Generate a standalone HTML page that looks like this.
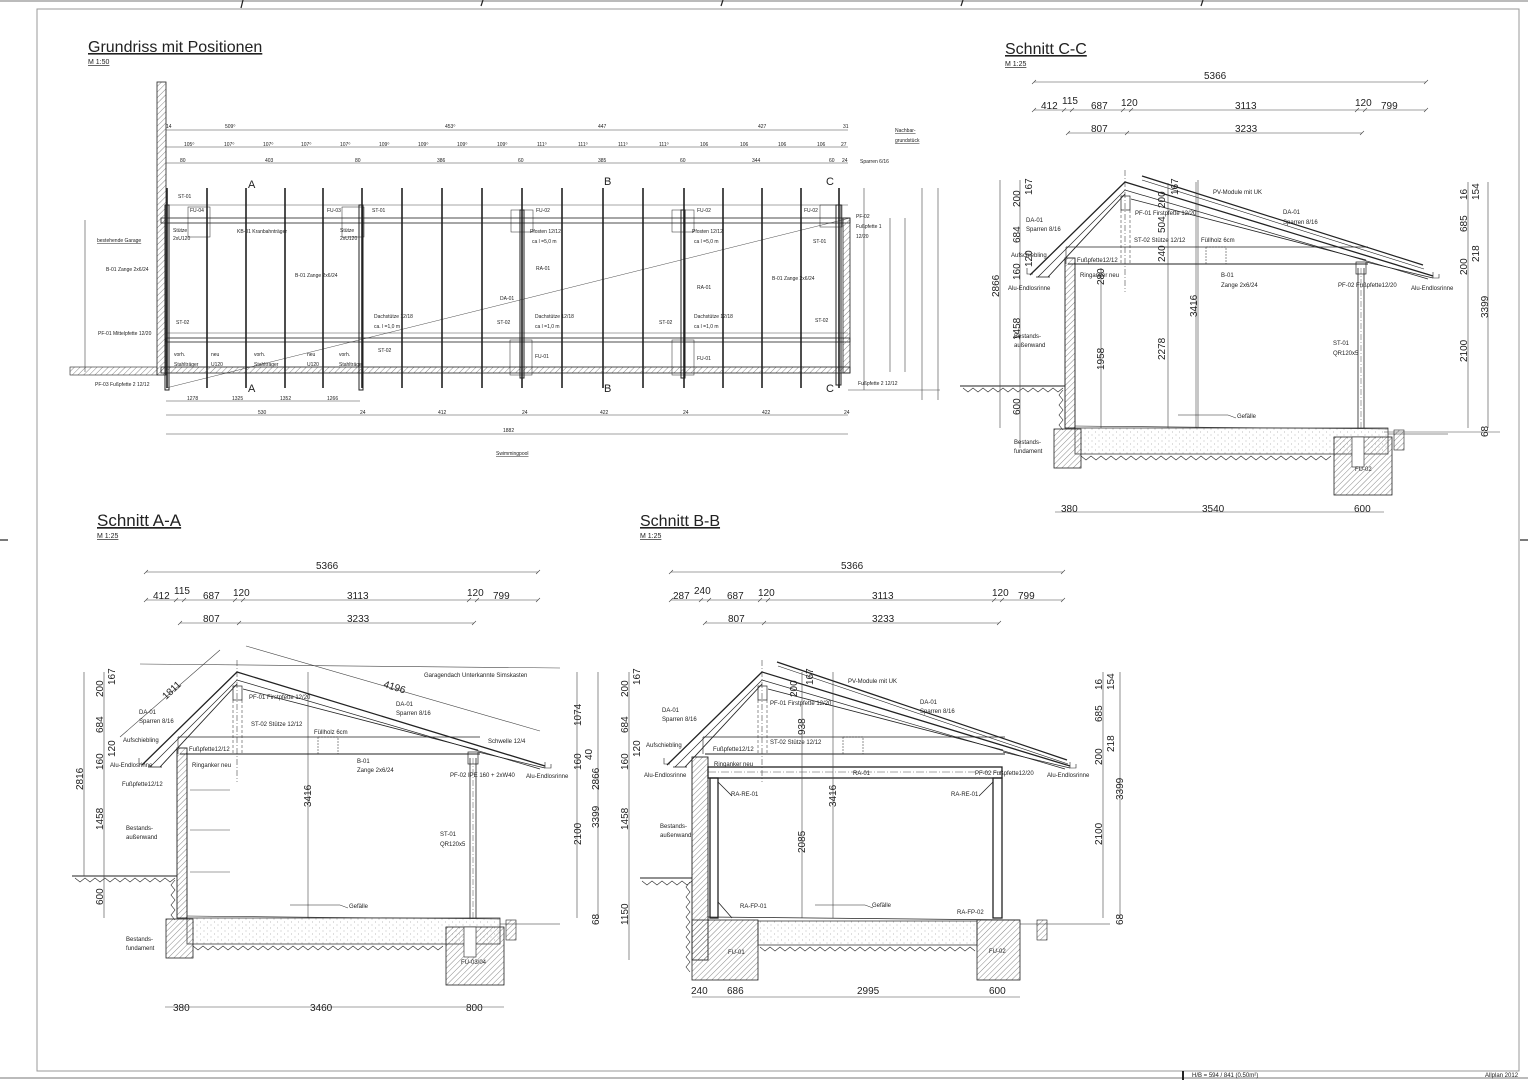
<!DOCTYPE html>
<html><head><meta charset="utf-8"><style>
html,body{margin:0;padding:0;background:#fff}
svg{display:block}
text{font-family:"Liberation Sans",sans-serif;fill:#222}
.s{font-size:6px}.d{font-size:9px}.dd{font-size:10px}.t{font-size:5px}
</style></head><body>
<svg width="1528" height="1080" viewBox="0 0 1528 1080" xmlns="http://www.w3.org/2000/svg">
<defs>
<pattern id="h" width="4" height="4" patternUnits="userSpaceOnUse" patternTransform="rotate(45)"><line x1="0" y1="0" x2="0" y2="4" stroke="#555" stroke-width="0.7"/></pattern>
<pattern id="dt" width="7" height="6" patternUnits="userSpaceOnUse"><circle cx="1" cy="1" r="0.4" fill="#666"/><circle cx="4.5" cy="4" r="0.4" fill="#666"/></pattern>
<g id="roof" fill="none" stroke="#222">
<polyline points="142,765 237,672 545,766" stroke-width="1.3"/>
<polyline points="150,767 237,680 540,769" stroke-width="0.7"/>
<line x1="237" y1="684" x2="160" y2="767" stroke-width="0.9"/>
<line x1="148" y1="767" x2="162" y2="767" stroke-width="0.8"/>
<line x1="243" y1="689" x2="478" y2="750" stroke-width="0.8"/>
<line x1="478" y1="752" x2="545" y2="768" stroke-width="0.7"/>
<line x1="178" y1="737" x2="480" y2="737" stroke-width="0.7"/>
<line x1="180" y1="754" x2="480" y2="754" stroke-width="1"/>
<line x1="178" y1="737" x2="178" y2="754" stroke-width="0.6"/>
<rect x="233" y="686" width="9" height="14" stroke-width="0.7"/>
<line x1="237" y1="660" x2="237" y2="782" stroke-width="0.5" stroke-dasharray="6,2,1,2"/>
<line x1="233" y1="700" x2="233" y2="754" stroke-width="0.5" stroke-dasharray="3,2"/>
<line x1="242" y1="700" x2="242" y2="754" stroke-width="0.5" stroke-dasharray="3,2"/>
<rect x="318" y="737" width="20" height="17" stroke-width="0.5" stroke-dasharray="2,1"/>
<path d="M139,758 v6 h6" stroke-width="0.6"/><path d="M545,762 v6 h6 v-4" stroke-width="0.6"/>
<path d="M290,905 h50 l8,3" stroke-width="0.5"/>
</g>
<g id="base" fill="none" stroke="#222">
<rect x="177" y="748" width="10" height="170" fill="url(#h)" stroke-width="0.9"/>
<line x1="470" y1="758" x2="470" y2="918" stroke-width="0.8"/>
<line x1="476" y1="758" x2="476" y2="918" stroke-width="0.8"/>
<line x1="473" y1="758" x2="473" y2="918" stroke-width="0.4" stroke-dasharray="6,2,1,2"/>
<rect x="468" y="752" width="10" height="12" stroke-width="0.7"/>
<rect x="187" y="918" width="313" height="26" fill="url(#dt)" stroke-width="0.7"/>
<line x1="187" y1="916" x2="500" y2="919" stroke-width="0.6"/>
<polyline points="72,876 177,876" stroke-width="0.9"/>
<path d="M75,878 l5,4 l5,-4 l5,4 l5,-4 l5,4 l5,-4 l5,4 l5,-4 l5,4 l5,-4 l5,4 l5,-4 l5,4 l5,-4 l5,4 l5,-4 l5,4 l5,-4 l5,4 l5,-4 M175,880 l-4,5 l4,5 l-4,5 l4,5 l-4,5 l4,5 l-4,5 l4,5" stroke-width="0.6"/>
<path d="M193,946 l5,4 l5,-4 l5,4 l5,-4 l5,4 l5,-4 l5,4 l5,-4 l5,4 l5,-4 l5,4 l5,-4 l5,4 l5,-4 l5,4 l5,-4 l5,4 l5,-4 l5,4 l5,-4 l5,4 l5,-4 l5,4 l5,-4 l5,4 l5,-4 l5,4 l5,-4 l5,4 l5,-4 l5,4 l5,-4 l5,4 l5,-4 l5,4 l5,-4 l5,4 l5,-4 l5,4 l5,-4 l5,4 l5,-4 l5,4 l5,-4 l5,4 l5,-4 l5,4 l5,-4 l5,4 l5,-4" stroke-width="0.6"/>
<rect x="166" y="919" width="27" height="39" fill="url(#h)" stroke-width="0.8"/>
<rect x="446" y="927" width="58" height="58" fill="url(#h)" stroke-width="0.8"/>
<rect x="464" y="927" width="12" height="30" fill="#fff" stroke-width="0.6"/>
<rect x="506" y="920" width="10" height="20" fill="url(#h)" stroke-width="0.6"/>
<line x1="500" y1="924" x2="560" y2="924" stroke-width="0.6"/>
<line x1="308" y1="672" x2="308" y2="918" stroke-width="0.5"/>
</g>
<g id="tdim" fill="none" stroke="#444" stroke-width="0.6">
<line x1="146" y1="572" x2="538" y2="572"/>
<line x1="146" y1="600" x2="538" y2="600"/>
<line x1="180" y1="623" x2="474" y2="623"/>
<path d="M144,574l4,-4M536,574l4,-4M144,602l4,-4M174,602l4,-4M182,602l4,-4M233,602l4,-4M241,602l4,-4M467,602l4,-4M475,602l4,-4M536,602l4,-4M178,625l4,-4M237,625l4,-4M472,625l4,-4"/>
</g>
</defs>

<rect x="37" y="9" width="1482" height="1062" fill="none" stroke="#999" stroke-width="1"/>
<line x1="0" y1="1" x2="1528" y2="1" stroke="#777"/>
<line x1="0" y1="1078" x2="1528" y2="1078" stroke="#777"/>
<g stroke="#222" stroke-width="1.2"><line x1="243" y1="0" x2="241" y2="8"/><line x1="483" y1="0" x2="481" y2="6"/><line x1="723" y1="0" x2="721" y2="6"/><line x1="963" y1="0" x2="961" y2="6"/><line x1="1203" y1="0" x2="1201" y2="6"/><line x1="0" y1="540" x2="8" y2="540"/><line x1="1520" y1="540" x2="1528" y2="540"/><line x1="1183" y1="1071" x2="1183" y2="1080" stroke-width="2"/></g>
<text x="1192" y="1077" class="s">H/B = 594 / 841 (0.50m²)</text>
<text x="1485" y="1077" class="s">Allplan 2012</text>

<text x="88" y="52" font-size="16" text-decoration="underline">Grundriss mit Positionen</text>
<text x="88" y="64" font-size="7" text-decoration="underline">M 1:50</text>
<text x="1005" y="54" font-size="16" text-decoration="underline">Schnitt C-C</text>
<text x="1005" y="66" font-size="7" text-decoration="underline">M 1:25</text>
<text x="97" y="526" font-size="17" text-decoration="underline">Schnitt A-A</text>
<text x="97" y="538" font-size="7" text-decoration="underline">M 1:25</text>
<text x="640" y="526" font-size="16" text-decoration="underline">Schnitt B-B</text>
<text x="640" y="538" font-size="7" text-decoration="underline">M 1:25</text>

<g fill="none" stroke="#222">
<rect x="157" y="82" width="9" height="293" fill="url(#h)" stroke-width="0.8"/>
<rect x="70" y="367" width="87" height="8" fill="url(#h)" stroke-width="0.6"/>
<g stroke-width="0.6" stroke="#444">
<line x1="166" y1="130" x2="848" y2="130"/><line x1="166" y1="147" x2="848" y2="147"/><line x1="166" y1="163" x2="848" y2="163"/>
<line x1="166" y1="401" x2="360" y2="401"/><line x1="166" y1="415" x2="848" y2="415"/><line x1="166" y1="434" x2="848" y2="434"/>
<line x1="864" y1="188" x2="864" y2="390"/><line x1="848" y1="390" x2="940" y2="390"/>
<line x1="890" y1="218" x2="890" y2="372"/><line x1="905" y1="218" x2="905" y2="372"/><line x1="922" y1="188" x2="922" y2="400"/><line x1="938" y1="188" x2="938" y2="400"/>
<line x1="85" y1="220" x2="85" y2="372"/>
</g>
<g stroke-width="1.6">
<line x1="167" y1="188" x2="167" y2="388"/><line x1="207" y1="188" x2="207" y2="388"/><line x1="246" y1="188" x2="246" y2="388"/><line x1="285" y1="188" x2="285" y2="388"/><line x1="323" y1="188" x2="323" y2="388"/><line x1="362" y1="188" x2="362" y2="388"/><line x1="402" y1="188" x2="402" y2="388"/><line x1="442" y1="188" x2="442" y2="388"/><line x1="482" y1="188" x2="482" y2="388"/><line x1="522" y1="188" x2="522" y2="388"/><line x1="562" y1="188" x2="562" y2="388"/><line x1="603" y1="188" x2="603" y2="388"/><line x1="643" y1="188" x2="643" y2="388"/><line x1="684" y1="188" x2="684" y2="388"/><line x1="723" y1="188" x2="723" y2="388"/><line x1="762" y1="188" x2="762" y2="388"/><line x1="801" y1="188" x2="801" y2="388"/><line x1="839" y1="188" x2="839" y2="388"/>
</g>
<g stroke-width="0.8">
<rect x="161" y="218" width="689" height="5"/>
<line x1="166" y1="205" x2="848" y2="205" stroke-width="0.4"/>
<rect x="166" y="338" width="684" height="4"/>
<line x1="166" y1="333" x2="848" y2="333" stroke-width="0.4"/>
<rect x="161" y="367" width="689" height="6" fill="url(#h)"/>
<rect x="843" y="218" width="7" height="155" fill="url(#h)"/>
<rect x="165" y="205" width="4" height="185" stroke-width="1"/>
<rect x="359" y="205" width="4" height="185" stroke-width="1"/>
<rect x="520" y="210" width="4" height="168" stroke-width="1"/>
<rect x="681" y="210" width="4" height="168" stroke-width="1"/>
<rect x="836" y="205" width="5" height="180" stroke-width="1"/>
<rect x="188" y="207" width="22" height="30" stroke-width="0.5"/><rect x="342" y="207" width="22" height="30" stroke-width="0.5"/>
<rect x="511" y="210" width="22" height="22" stroke-width="0.5"/><rect x="672" y="210" width="22" height="22" stroke-width="0.5"/><rect x="820" y="205" width="22" height="22" stroke-width="0.5"/>
<rect x="510" y="340" width="22" height="35" stroke-width="0.5"/><rect x="672" y="340" width="22" height="35" stroke-width="0.5"/>
<line x1="166" y1="388" x2="850" y2="218" stroke-width="0.4"/>
</g>
</g>
<g class="t">
<text x="225" y="128">509⁰</text><text x="445" y="128">453⁰</text><text x="598" y="128">447</text><text x="758" y="128">427</text><text x="843" y="128">31</text><text x="166" y="128">14</text>
<text x="184" y="146">105⁰</text><text x="224" y="146">107⁰</text><text x="263" y="146">107⁰</text><text x="301" y="146">107⁰</text><text x="340" y="146">107⁰</text><text x="379" y="146">109⁰</text><text x="418" y="146">109⁰</text><text x="457" y="146">109⁰</text><text x="497" y="146">109⁰</text><text x="537" y="146">111⁰</text><text x="578" y="146">111⁰</text><text x="618" y="146">111⁰</text><text x="659" y="146">111⁰</text><text x="700" y="146">106</text><text x="740" y="146">106</text><text x="778" y="146">106</text><text x="817" y="146">106</text><text x="841" y="146">27</text>
<text x="180" y="162">80</text><text x="265" y="162">403</text><text x="355" y="162">80</text><text x="437" y="162">386</text><text x="518" y="162">60</text><text x="598" y="162">385</text><text x="680" y="162">60</text><text x="752" y="162">344</text><text x="829" y="162">60</text><text x="842" y="162">24</text>
<text x="187" y="400">1278</text><text x="232" y="400">1325</text><text x="280" y="400">1352</text><text x="327" y="400">1266</text>
<text x="258" y="414">530</text><text x="360" y="414">24</text><text x="438" y="414">412</text><text x="522" y="414">24</text><text x="600" y="414">422</text><text x="683" y="414">24</text><text x="762" y="414">422</text><text x="844" y="414">24</text>
<text x="503" y="432">1882</text><text x="496" y="455" text-decoration="underline">Swimmingpool</text>
<text x="895" y="132" text-decoration="underline">Nachbar-</text><text x="895" y="142" text-decoration="underline">grundstück</text>
<text x="860" y="163">Sparren 6/16</text>
<text x="97" y="242" text-decoration="underline">bestehende Garage</text>
<text x="106" y="271">B-01 Zange 2x6/24</text><text x="98" y="335">PF-01 Mittelpfette 12/20</text><text x="95" y="386">PF-03 Fußpfette 2 12/12</text>
<text x="178" y="198">ST-01</text><text x="190" y="212">FU-04</text><text x="173" y="232">Stütze</text><text x="173" y="240">2xU120</text><text x="237" y="233">KB-01 Kranbahnträger</text>
<text x="327" y="212">FU-03</text><text x="372" y="212">ST-01</text><text x="340" y="232">Stütze</text><text x="340" y="240">2xU120</text>
<text x="295" y="277">B-01 Zange 2x6/24</text><text x="176" y="324">ST-02</text><text x="378" y="352">ST-02</text>
<text x="174" y="356">vorh.</text><text x="174" y="366">Stahlträger</text><text x="211" y="356">neu</text><text x="211" y="366">U120</text><text x="254" y="356">vorh.</text><text x="254" y="366">Stahlträger</text><text x="307" y="356">neu</text><text x="307" y="366">U120</text><text x="339" y="356">vorh.</text><text x="339" y="366">Stahlträger</text>
<text x="374" y="318">Dachstütze 12/18</text><text x="374" y="328">ca. l =1,0 m</text>
<text x="536" y="212">FU-02</text><text x="530" y="233">Pfosten 12/12</text><text x="532" y="243">ca l =5,0 m</text><text x="536" y="270">RA-01</text><text x="500" y="300">DA-01</text><text x="535" y="318">Dachstütze 12/18</text><text x="535" y="328">ca l =1,0 m</text><text x="497" y="324">ST-02</text><text x="535" y="358">FU-01</text>
<text x="697" y="212">FU-02</text><text x="692" y="233">Pfosten 12/12</text><text x="694" y="243">ca l =5,0 m</text><text x="697" y="289">RA-01</text><text x="694" y="318">Dachstütze 12/18</text><text x="694" y="328">ca l =1,0 m</text><text x="659" y="324">ST-02</text><text x="697" y="360">FU-01</text>
<text x="804" y="212">FU-02</text><text x="813" y="243">ST-01</text><text x="772" y="280">B-01 Zange 2x6/24</text><text x="815" y="322">ST-02</text>
<text x="856" y="218">PF-02</text><text x="856" y="228">Fußpfette 1</text><text x="856" y="238">12/20</text><text x="858" y="385">Fußpfette 2 12/12</text>
</g>
<g font-size="11"><text x="248" y="188">A</text><text x="248" y="392">A</text><text x="604" y="185">B</text><text x="604" y="392">B</text><text x="826" y="185">C</text><text x="826" y="392">C</text></g>

<use href="#roof"/><use href="#base"/><use href="#tdim"/>
<g fill="none" stroke="#444" stroke-width="0.6">
<line x1="84" y1="672" x2="84" y2="876"/><line x1="104" y1="672" x2="104" y2="918"/>
<line x1="577" y1="672" x2="577" y2="918"/><line x1="598" y1="672" x2="598" y2="918"/>
<line x1="165" y1="1007" x2="504" y2="1007"/>
<line x1="120" y1="737" x2="220" y2="650"/><line x1="246" y1="646" x2="540" y2="731"/>
<line x1="190" y1="790" x2="230" y2="790"/><line x1="190" y1="830" x2="230" y2="830"/><line x1="190" y1="872" x2="230" y2="872"/>
<line x1="140" y1="664" x2="560" y2="668"/>
</g>
<g class="dd">
<text x="316" y="569">5366</text>
<text x="153" y="599">412</text><text x="174" y="594">115</text><text x="203" y="599">687</text><text x="233" y="596">120</text><text x="347" y="599">3113</text><text x="467" y="596">120</text><text x="493" y="599">799</text>
<text x="203" y="622">807</text><text x="347" y="622">3233</text>
<text x="173" y="1011">380</text><text x="310" y="1011">3460</text><text x="466" y="1011">800</text>
<text transform="translate(83,790) rotate(-90)">2816</text>
<text transform="translate(103,697) rotate(-90)">200</text><text transform="translate(115,685) rotate(-90)">167</text><text transform="translate(103,733) rotate(-90)">684</text><text transform="translate(115,757) rotate(-90)">120</text><text transform="translate(103,770) rotate(-90)">160</text><text transform="translate(103,830) rotate(-90)">1458</text><text transform="translate(103,905) rotate(-90)">600</text>
<text transform="translate(311,807) rotate(-90)">3416</text>
<text transform="translate(166,700) rotate(-43)">1811</text><text transform="translate(383,687) rotate(17)">4196</text>
<text transform="translate(581,726) rotate(-90)">1074</text><text transform="translate(581,770) rotate(-90)">160</text><text transform="translate(592,760) rotate(-90)">40</text><text transform="translate(581,845) rotate(-90)">2100</text><text transform="translate(599,790) rotate(-90)">2866</text><text transform="translate(599,828) rotate(-90)">3399</text><text transform="translate(599,925) rotate(-90)">68</text>
</g>
<g class="s">
<text x="424" y="677">Garagendach Unterkannte Simskasten</text>
<text x="139" y="714">DA-01</text><text x="139" y="723">Sparren 8/16</text><text x="396" y="706">DA-01</text><text x="396" y="715">Sparren 8/16</text>
<text x="249" y="699">PF-01 Firstpfette 12/20</text><text x="251" y="726">ST-02 Stütze 12/12</text><text x="314" y="734">Füllholz 6cm</text>
<text x="123" y="742">Aufschiebling</text><text x="189" y="751">Fußpfette12/12</text><text x="110" y="767">Alu-Endlosrinne</text><text x="192" y="767">Ringanker neu</text><text x="122" y="786">Fußpfette12/12</text>
<text x="357" y="763">B-01</text><text x="357" y="772">Zange 2x6/24</text><text x="450" y="777">PF-02 IPE 160 + 2xW40</text><text x="526" y="778">Alu-Endlosrinne</text><text x="488" y="743">Schwelle 12/4</text>
<text x="440" y="836">ST-01</text><text x="440" y="846">QR120x5</text><text x="126" y="830">Bestands-</text><text x="126" y="839">außenwand</text><text x="126" y="941">Bestands-</text><text x="126" y="950">fundament</text><text x="349" y="908">Gefälle</text><text x="461" y="964">FU-03/04</text>
</g>

<g transform="translate(525,0)"><use href="#roof"/><use href="#tdim"/></g>
<g fill="none" stroke="#222">
<line x1="777" y1="662" x2="1067" y2="760" stroke-width="1.2"/><line x1="778" y1="666" x2="1068" y2="764" stroke-width="0.6"/>
<rect x="692" y="757" width="16" height="203" fill="url(#h)" stroke-width="0.9"/>
<rect x="708" y="767" width="294" height="11" stroke-width="1.3"/>
<line x1="708" y1="772" x2="1002" y2="772" stroke-width="0.4" stroke-dasharray="8,2,1,2"/>
<rect x="710" y="778" width="8" height="140" stroke-width="1.3"/><rect x="993" y="778" width="9" height="140" stroke-width="1.3"/>
<path d="M718,782 l14,14 M993,782 l-14,14 M718,902 l14,16" stroke-width="0.8"/>
<line x1="708" y1="917" x2="1020" y2="920" stroke-width="0.8"/>
<rect x="758" y="921" width="219" height="24" fill="url(#dt)" stroke-width="0.7"/>
<rect x="692" y="920" width="66" height="60" fill="url(#h)" stroke-width="0.8"/>
<rect x="977" y="920" width="43" height="60" fill="url(#h)" stroke-width="0.8"/>
<rect x="1037" y="920" width="10" height="20" fill="url(#h)" stroke-width="0.6"/>
<line x1="1020" y1="924" x2="1110" y2="924" stroke-width="0.6"/>
<line x1="640" y1="878" x2="692" y2="878" stroke-width="0.9"/>
<path d="M642,881 l5,4 l5,-4 l5,4 l5,-4 l5,4 l5,-4 l5,4 l5,-4 l5,4 l5,-4 M690,882 l-4,5 l4,5 l-4,5 l4,5 l-4,5 l4,5 l-4,5 l4,5 l-4,5 l4,5 l-4,5 l4,5 l-4,5 l4,5 l-4,5 l4,5 l-4,5 l4,5 M760,947 l5,4 l5,-4 l5,4 l5,-4 l5,4 l5,-4 l5,4 l5,-4 l5,4 l5,-4 l5,4 l5,-4 l5,4 l5,-4 l5,4 l5,-4 l5,4 l5,-4 l5,4 l5,-4 l5,4 l5,-4 l5,4 l5,-4 l5,4 l5,-4 l5,4 l5,-4 l5,4 l5,-4 l5,4 l5,-4 l5,4 l5,-4 l5,4 l5,-4 l5,4 l5,-4 l5,4 l5,-4 l5,4 l5,-4 l5,4" stroke-width="0.6"/>
<g stroke="#444" stroke-width="0.6"><line x1="629" y1="672" x2="629" y2="960"/><line x1="1103" y1="672" x2="1103" y2="918"/><line x1="1120" y1="672" x2="1120" y2="918"/><line x1="833" y1="672" x2="833" y2="918"/><line x1="802" y1="672" x2="802" y2="918"/><line x1="692" y1="997" x2="1020" y2="997"/></g>
</g>
<g class="dd">
<text x="841" y="569">5366</text>
<text x="673" y="599">287</text><text x="694" y="594">240</text><text x="727" y="599">687</text><text x="758" y="596">120</text><text x="872" y="599">3113</text><text x="992" y="596">120</text><text x="1018" y="599">799</text>
<text x="728" y="622">807</text><text x="872" y="622">3233</text>
<text x="691" y="994">240</text><text x="727" y="994">686</text><text x="857" y="994">2995</text><text x="989" y="994">600</text>
<text transform="translate(628,697) rotate(-90)">200</text><text transform="translate(640,685) rotate(-90)">167</text><text transform="translate(628,733) rotate(-90)">684</text><text transform="translate(640,757) rotate(-90)">120</text><text transform="translate(628,770) rotate(-90)">160</text><text transform="translate(628,830) rotate(-90)">1458</text><text transform="translate(628,925) rotate(-90)">1150</text>
<text transform="translate(836,807) rotate(-90)">3416</text><text transform="translate(805,853) rotate(-90)">2085</text><text transform="translate(805,735) rotate(-90)">938</text><text transform="translate(797,697) rotate(-90)">200</text><text transform="translate(813,685) rotate(-90)">167</text>
<text transform="translate(1102,690) rotate(-90)">16</text><text transform="translate(1114,690) rotate(-90)">154</text><text transform="translate(1102,722) rotate(-90)">685</text><text transform="translate(1114,752) rotate(-90)">218</text><text transform="translate(1102,765) rotate(-90)">200</text><text transform="translate(1102,845) rotate(-90)">2100</text><text transform="translate(1123,800) rotate(-90)">3399</text><text transform="translate(1123,925) rotate(-90)">68</text>
</g>
<g class="s">
<text x="848" y="683">PV-Module mit UK</text>
<text x="662" y="712">DA-01</text><text x="662" y="721">Sparren 8/16</text><text x="920" y="704">DA-01</text><text x="920" y="713">Sparren 8/16</text>
<text x="770" y="705">PF-01 Firstpfette 12/20</text><text x="770" y="744">ST-02 Stütze 12/12</text>
<text x="646" y="747">Aufschiebling</text><text x="713" y="751">Fußpfette12/12</text><text x="644" y="777">Alu-Endlosrinne</text><text x="714" y="766">Ringanker neu</text>
<text x="853" y="775">RA-01</text><text x="975" y="775">PF-02 Fußpfette12/20</text><text x="1047" y="777">Alu-Endlosrinne</text>
<text x="731" y="796">RA-RE-01</text><text x="951" y="796">RA-RE-01</text><text x="740" y="908">RA-FP-01</text><text x="957" y="914">RA-FP-02</text>
<text x="660" y="828">Bestands-</text><text x="660" y="837">außenwand</text><text x="872" y="907">Gefälle</text><text x="728" y="954">FU-01</text><text x="989" y="953">FU-02</text>
</g>

<g transform="translate(888,-490)"><use href="#roof"/><use href="#base"/><use href="#tdim"/></g>
<g fill="none" stroke="#222">
<line x1="1142" y1="176" x2="1423" y2="265" stroke-width="1.2"/><line x1="1142" y1="180" x2="1424" y2="269" stroke-width="0.6"/>
<g stroke="#444" stroke-width="0.6"><line x1="1000" y1="180" x2="1000" y2="428"/><line x1="1020" y1="180" x2="1020" y2="448"/><line x1="1101" y1="268" x2="1101" y2="428"/><line x1="1168" y1="183" x2="1168" y2="428"/><line x1="1198" y1="180" x2="1198" y2="428"/><line x1="1468" y1="182" x2="1468" y2="428"/><line x1="1488" y1="182" x2="1488" y2="428"/><line x1="1055" y1="512" x2="1384" y2="512"/><line x1="1384" y1="432" x2="1500" y2="432"/></g>
</g>
<g class="dd">
<text x="1204" y="79">5366</text>
<text x="1041" y="109">412</text><text x="1062" y="104">115</text><text x="1091" y="109">687</text><text x="1121" y="106">120</text><text x="1235" y="109">3113</text><text x="1355" y="106">120</text><text x="1381" y="109">799</text>
<text x="1091" y="132">807</text><text x="1235" y="132">3233</text>
<text x="1061" y="512">380</text><text x="1202" y="512">3540</text><text x="1354" y="512">600</text>
<text transform="translate(999,297) rotate(-90)">2866</text>
<text transform="translate(1020,207) rotate(-90)">200</text><text transform="translate(1032,195) rotate(-90)">167</text><text transform="translate(1020,243) rotate(-90)">684</text><text transform="translate(1032,267) rotate(-90)">120</text><text transform="translate(1020,280) rotate(-90)">160</text><text transform="translate(1020,340) rotate(-90)">1458</text><text transform="translate(1020,415) rotate(-90)">600</text>
<text transform="translate(1104,370) rotate(-90)">1958</text><text transform="translate(1165,360) rotate(-90)">2278</text><text transform="translate(1165,262) rotate(-90)">240</text><text transform="translate(1165,233) rotate(-90)">504</text><text transform="translate(1165,208) rotate(-90)">200</text><text transform="translate(1178,195) rotate(-90)">167</text><text transform="translate(1197,317) rotate(-90)">3416</text><text transform="translate(1104,285) rotate(-90)">280</text>
<text transform="translate(1467,200) rotate(-90)">16</text><text transform="translate(1479,200) rotate(-90)">154</text><text transform="translate(1467,232) rotate(-90)">685</text><text transform="translate(1479,262) rotate(-90)">218</text><text transform="translate(1467,275) rotate(-90)">200</text><text transform="translate(1467,362) rotate(-90)">2100</text><text transform="translate(1488,318) rotate(-90)">3399</text><text transform="translate(1488,437) rotate(-90)">68</text>
</g>
<g class="s">
<text x="1213" y="194">PV-Module mit UK</text>
<text x="1026" y="222">DA-01</text><text x="1026" y="231">Sparren 8/16</text><text x="1283" y="214">DA-01</text><text x="1283" y="224">Sparren 8/16</text>
<text x="1135" y="215">PF-01 Firstpfette 12/20</text><text x="1134" y="242">ST-02 Stütze 12/12</text><text x="1201" y="242">Füllholz 6cm</text>
<text x="1011" y="257">Aufschiebling</text><text x="1077" y="262">Fußpfette12/12</text><text x="1008" y="290">Alu-Endlosrinne</text><text x="1080" y="277">Ringanker neu</text>
<text x="1221" y="277">B-01</text><text x="1221" y="287">Zange 2x6/24</text><text x="1338" y="287">PF-02 Fußpfette12/20</text><text x="1411" y="290">Alu-Endlosrinne</text>
<text x="1333" y="345">ST-01</text><text x="1333" y="355">QR120x5</text><text x="1014" y="338">Bestands-</text><text x="1014" y="347">außenwand</text><text x="1014" y="444">Bestands-</text><text x="1014" y="453">fundament</text><text x="1237" y="418">Gefälle</text><text x="1355" y="471">FU-02</text>
</g>
</svg>
</body></html>
